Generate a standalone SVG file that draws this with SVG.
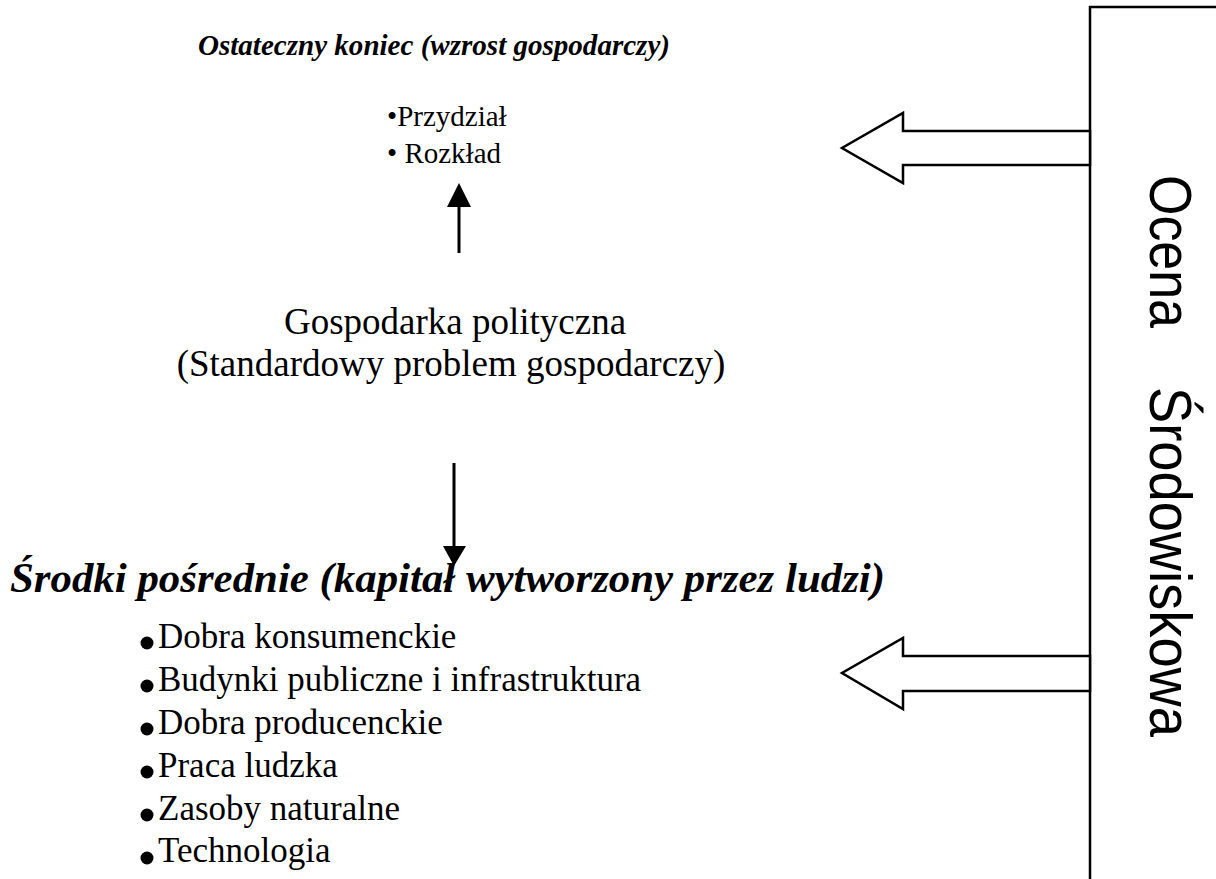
<svg xmlns="http://www.w3.org/2000/svg" width="1216" height="879" viewBox="0 0 1216 879">
<style>
.serif{font-family:"Liberation Serif","Times New Roman",serif;fill:#000}
.bi{font-weight:bold;font-style:italic}
.sans{font-family:"Liberation Sans",Arial,sans-serif;fill:#000}
.blk{fill:#fff;stroke:#000;stroke-width:2.5;stroke-linejoin:miter}
.ln{stroke:#000;stroke-width:3;fill:none}
.hd{fill:#000}
</style>
<rect width="1216" height="879" fill="#fff"/>
<g id="env">
<rect x="1090" y="7" width="140" height="890" fill="#fff" stroke="#000" stroke-width="2.5"/>
<text class="sans" font-size="60" transform="translate(1150,175) rotate(90)"><tspan x="0" y="0" textLength="153" lengthAdjust="spacingAndGlyphs">Ocena</tspan><tspan x="212" y="0" textLength="350" lengthAdjust="spacingAndGlyphs">Środowiskowa</tspan></text>
</g>
<g id="title">
<text class="serif bi" x="198" y="55" font-size="29" textLength="472" lengthAdjust="spacingAndGlyphs">Ostateczny koniec (wzrost gospodarczy)</text>
</g>
<g id="end">
<text class="serif" x="387" y="126" font-size="29">•Przydział</text>
<text class="serif" x="387" y="163" font-size="29">• Rozkład</text>
</g>
<g id="political">
<text class="serif" x="455" y="334" font-size="37" text-anchor="middle">Gospodarka polityczna</text>
<text class="serif" x="451" y="376" font-size="37" text-anchor="middle">(Standardowy problem gospodarczy)</text>
</g>
<g id="means">
<text class="serif bi" x="10" y="592" font-size="43" textLength="875" lengthAdjust="spacingAndGlyphs">Środki pośrednie (kapitał wytworzony przez ludzi)</text>
<g fill="#000">
<circle cx="147" cy="643" r="6.5"/>
<circle cx="147" cy="686" r="6.5"/>
<circle cx="147" cy="729" r="6.5"/>
<circle cx="147" cy="772" r="6.5"/>
<circle cx="147" cy="815" r="6.5"/>
<circle cx="147" cy="858" r="6.5"/>
</g>
<text class="serif" x="158" y="648" font-size="35">Dobra konsumenckie</text>
<text class="serif" x="158" y="691" font-size="35">Budynki publiczne i infrastruktura</text>
<text class="serif" x="158" y="734" font-size="35">Dobra producenckie</text>
<text class="serif" x="158" y="777" font-size="35">Praca ludzka</text>
<text class="serif" x="158" y="820" font-size="35">Zasoby naturalne</text>
<text class="serif" x="158" y="862" font-size="35">Technologia</text>
</g>
<g id="connectors">
<polygon class="blk" points="1090,131 903,131 903,113 842,148 903,183 903,165 1090,165"/>
<polygon class="blk" points="1090,656 903,656 903,638 842,673 903,709 903,691 1090,691"/>
<line class="ln" x1="459" y1="253" x2="459" y2="204"/>
<polygon class="hd" points="447,207 459,183 471,207"/>
<line class="ln" x1="454" y1="463" x2="454" y2="548"/>
<polygon class="hd" points="443,546 466,546 454,566"/>
</g>
</svg>
